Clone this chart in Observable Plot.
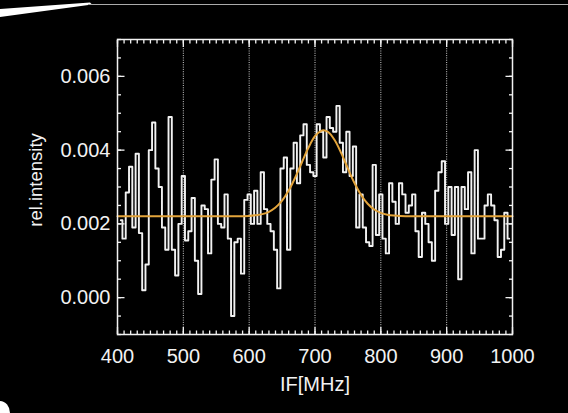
<!DOCTYPE html>
<html>
<head>
<meta charset="utf-8">
<script src="https://cdn.jsdelivr.net/npm/d3@7"></script>
<script src="https://cdn.jsdelivr.net/npm/@observablehq/plot@0.6"></script>
<style>
  html, body { margin: 0; padding: 0; background: #000; width: 568px; height: 413px; overflow: hidden; }
  #chart { position: absolute; left: 0; top: 0; }
  .edge { position: absolute; left: 0; top: 0; width: 95px; height: 20px; background: #fff;
          clip-path: polygon(0 9px, 90px 2.5px, 92px 4.5px, 0 17px); }
  .edgeline { position: absolute; left: 88px; top: 4px; width: 480px; height: 1px; background: #aaa; }
  .corner { position: absolute; left: 0; top: 401px; width: 10px; height: 12px; background: #fff;
            border-top-right-radius: 10px 12px; }
</style>
</head>
<body>
<div id="chart"></div>
<div class="edge"></div>
<div class="edgeline"></div>
<div class="corner"></div>
<script>
// Histogram bins: centre frequency (MHz), 5 MHz wide
const binFreq = d3.range(405, 1000, 5);
// relative intensity (x 1e-3)
const binValue = [
  2.1, 1.6, 2.85, 3.55, 1.9, 3.9, 1.75, 0.2, 0.9, 4.0,
  4.75, 3.5, 3.0, 1.9, 1.3, 4.9, 1.3, 0.6, 2.0, 3.3,
  1.55, 1.8, 2.7, 1.0, 0.1, 2.5, 2.4, 1.2, 3.2, 3.75,
  2.0, 1.9, 2.8, 1.6, -0.5, 1.5, 1.6, 0.65, 2.65, 2.8,
  2.0, 2.9, 2.0, 3.4, 2.4, 2.0, 1.8, 1.3, 0.25, 3.5,
  3.8, 1.3, 3.5, 4.2, 3.1,
  4.4, 4.7, 3.6, 3.4, 3.3, 4.7, 4.5, 3.8, 4.9, 4.6,
  4.5, 5.2, 4.2, 3.4, 4.5, 3.3, 4.1, 1.9, 2.8, 1.9,
  1.5, 1.4, 3.6, 1.7, 2.8, 1.6, 1.2, 3.1, 2.6, 2.0,
  3.1, 2.8, 2.3, 2.5, 2.8, 1.8, 1.1, 2.3, 2.0, 1.5,
  1.0, 2.9, 3.4, 3.7, 2.0, 3.0, 1.7, 3.0, 0.5, 3.0,
  2.4, 3.4, 1.2, 4.0, 1.6, 1.6, 2.5, 2.8, 2.5, 2.1,
  1.1, 1.3, 2.3, 1.6
];
// Gaussian fit curve (x 1e-3)
const fitFreq  = [400, 450, 500, 550, 600, 610, 620, 630, 640, 650, 660, 670, 680, 690, 700, 710, 713, 720, 730, 740, 750, 760, 770, 780, 790, 800, 810, 820, 830, 850, 900, 950, 1000];
const fitValue = [2.21, 2.21, 2.21, 2.21, 2.215, 2.234, 2.265, 2.328, 2.443, 2.628, 2.902, 3.257, 3.664, 4.063, 4.377, 4.531, 4.54, 4.491, 4.266, 3.911, 3.499, 3.107, 2.782, 2.545, 2.389, 2.299, 2.25, 2.227, 2.216, 2.21, 2.21, 2.21, 2.21];

const xMajor = [400, 500, 600, 700, 800, 900, 1000];
const xMinor = d3.range(400, 1001, 10);
const yMajor = [0, 0.002, 0.004, 0.006];
const yMinor = d3.range(-0.001, 0.00701, 0.0005);
const xGrid = [500, 600, 700, 800, 900];

const hist = binFreq.map((f, i) => ({f, v: binValue[i] / 1000}));
const fit = fitFreq.map((f, i) => ({f, v: fitValue[i] / 1000}));

const font = "'Liberation Sans', Arial, Helvetica, sans-serif";
const white = "#f2f2f2";
const tk = {text: null, label: null, stroke: white, strokeWidth: 1.3};

const chart = Plot.plot({
  width: 568,
  height: 413,
  marginLeft: 117,
  marginRight: 56,
  marginTop: 39,
  marginBottom: 79,
  style: {background: "#000", color: white, fontFamily: font},
  x: {domain: [400, 1000], label: null},
  y: {domain: [-0.001, 0.007], label: null},
  marks: [
    Plot.ruleX(xGrid, {stroke: "#cfcfcf", strokeWidth: 1, strokeDasharray: "1,1.3"}),
    Plot.line(hist, {x: "f", y: "v", curve: "step", stroke: white, strokeWidth: 1.9}),
    Plot.line(fit, {x: "f", y: "v", curve: "catmull-rom", stroke: "#e3a43b", strokeWidth: 2}),
    // inward ticks
    Plot.axisX({anchor: "bottom", ticks: xMinor, tickSize: -3.5, ...tk}),
    Plot.axisX({anchor: "top", ticks: xMinor, tickSize: -3.5, ...tk}),
    Plot.axisX({anchor: "bottom", ticks: xMajor, tickSize: -7, ...tk}),
    Plot.axisX({anchor: "top", ticks: xMajor, tickSize: -7, ...tk}),
    Plot.axisY({anchor: "left", ticks: yMinor, tickSize: -4, ...tk}),
    Plot.axisY({anchor: "right", ticks: yMinor, tickSize: -4, ...tk}),
    Plot.axisY({anchor: "left", ticks: yMajor, tickSize: -7.5, ...tk}),
    Plot.axisY({anchor: "right", ticks: yMajor, tickSize: -7.5, ...tk}),
    // tick labels
    Plot.axisX({anchor: "bottom", ticks: xMajor, tickSize: 0, tickPadding: 14, fontSize: 20, fill: white, label: null, tickFormat: d3.format("d")}),
    Plot.axisY({anchor: "left", ticks: yMajor, tickSize: 0, tickPadding: 7, fontSize: 20, fill: white, label: null, tickFormat: d3.format(".3f")}),
    Plot.frame({stroke: white, strokeWidth: 1.5}),
    Plot.text(["IF[MHz]"], {frameAnchor: "bottom", dy: 50, fontSize: 20, fill: white, lineAnchor: "middle"}),
    Plot.text(["rel.intensity"], {frameAnchor: "left", dx: -81, dy: -7, rotate: -90, textAnchor: "middle", fontSize: 18.5, fill: white, lineAnchor: "middle"})
  ]
});
document.getElementById("chart").append(chart);
</script>
</body>
</html>
